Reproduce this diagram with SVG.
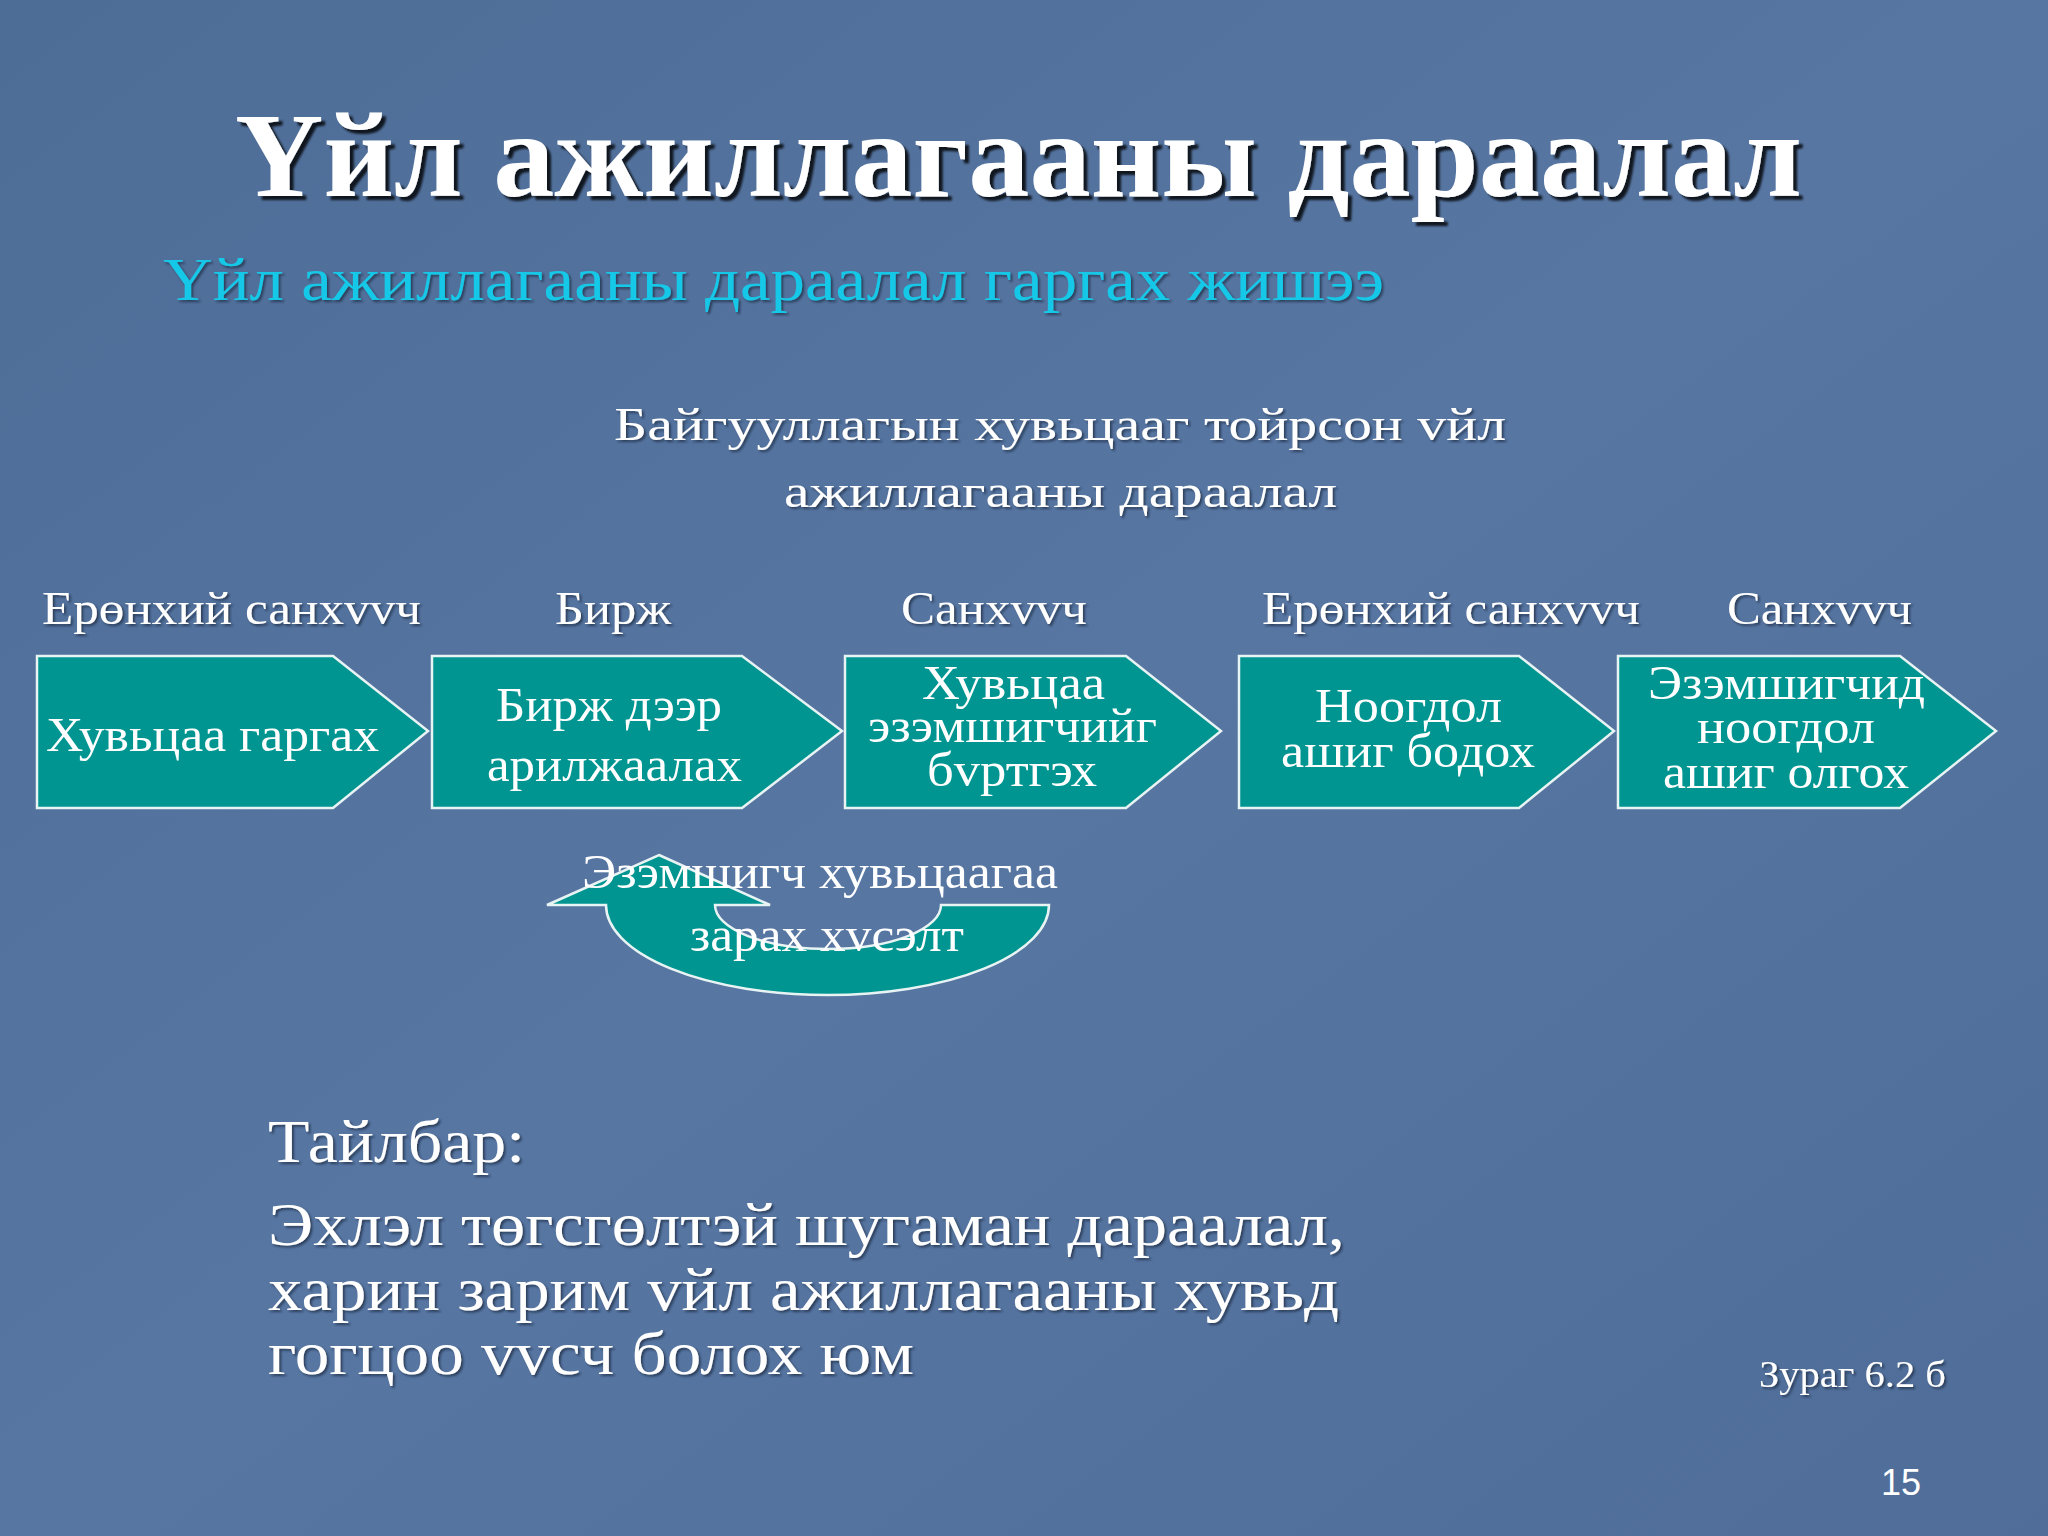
<svg xmlns="http://www.w3.org/2000/svg" width="2048" height="1536" viewBox="0 0 2048 1536">
<defs>
<linearGradient id="bg" x1="0" y1="0" x2="1" y2="1"><stop offset="0" stop-color="#4d6c96"/><stop offset="0.5" stop-color="#5776a2"/><stop offset="1" stop-color="#4f6d98"/></linearGradient>
<filter id="sh"><feDropShadow dx="4" dy="4" stdDeviation="1" flood-color="#000" flood-opacity="0.8"/></filter>
<filter id="sh2"><feDropShadow dx="2" dy="2" stdDeviation="1" flood-color="#1a2a40" flood-opacity="0.7"/></filter>
<style>
.t{font-family:"Liberation Serif","Times New Roman",serif;fill:#fff;}
.box{fill:#009590;stroke:#e8f4f4;stroke-width:2.5;}
.bt{font-family:"Liberation Serif",serif;fill:#fff;font-size:48px;}
.lab{font-family:"Liberation Serif",serif;fill:#fff;font-size:46px;}
</style>
</defs>
<rect width="2048" height="1536" fill="url(#bg)"/>
<text class="t" x="235" y="196" font-size="120" font-weight="bold" textLength="1567" lengthAdjust="spacingAndGlyphs" filter="url(#sh)">Үйл ажиллагааны дараалал</text>
<text x="163" y="300" font-family="Liberation Serif,serif" font-size="62" fill="#19c8e8" textLength="1221" lengthAdjust="spacingAndGlyphs" filter="url(#sh2)">Үйл ажиллагааны дараалал гаргах жишээ</text>
<g filter="url(#sh2)">
<text class="lab" x="614" y="440" textLength="892" lengthAdjust="spacingAndGlyphs">Байгууллагын хувьцааг тойрсон vйл</text>
<text class="lab" x="784" y="507" textLength="553" lengthAdjust="spacingAndGlyphs">ажиллагааны дараалал</text>
<text class="lab" x="42" y="624" textLength="379" lengthAdjust="spacingAndGlyphs">Ерөнхий санхvvч</text>
<text class="lab" x="555" y="624" textLength="116" lengthAdjust="spacingAndGlyphs">Бирж</text>
<text class="lab" x="901" y="624" textLength="186" lengthAdjust="spacingAndGlyphs">Санхvvч</text>
<text class="lab" x="1262" y="624" textLength="378" lengthAdjust="spacingAndGlyphs">Ерөнхий санхvvч</text>
<text class="lab" x="1727" y="624" textLength="185" lengthAdjust="spacingAndGlyphs">Санхvvч</text>
</g>
<g id="n1"><polygon class="box" points="37,656 333,656 428,731 333,808 37,808"/><text class="bt" x="46" y="751" textLength="333" lengthAdjust="spacingAndGlyphs">Хувьцаа гаргах</text></g>
<g id="n2"><polygon class="box" points="432,656 742,656 842,731 742,808 432,808"/><text class="bt" x="496" y="721" textLength="226" lengthAdjust="spacingAndGlyphs">Бирж дээр</text><text class="bt" x="487" y="781" textLength="255" lengthAdjust="spacingAndGlyphs">арилжаалах</text></g>
<g id="n3"><polygon class="box" points="845,656 1126,656 1221,731 1126,808 845,808"/><text class="bt" x="922" y="699" font-size="44" textLength="183" lengthAdjust="spacingAndGlyphs">Хувьцаа</text><text class="bt" x="868" y="742" font-size="44" textLength="289" lengthAdjust="spacingAndGlyphs">эзэмшигчийг</text><text class="bt" x="927" y="786" font-size="44" textLength="170" lengthAdjust="spacingAndGlyphs">бvртгэх</text></g>
<g id="n4"><polygon class="box" points="1239,656 1519,656 1614,731 1519,808 1239,808"/><text class="bt" x="1315" y="722" textLength="187" lengthAdjust="spacingAndGlyphs">Ноогдол</text><text class="bt" x="1281" y="767" textLength="254" lengthAdjust="spacingAndGlyphs">ашиг бодох</text></g>
<g id="n5"><polygon class="box" points="1618,656 1900,656 1996,731 1900,808 1618,808"/><text class="bt" x="1648" y="699" font-size="44" textLength="277" lengthAdjust="spacingAndGlyphs">Эзэмшигчид</text><text class="bt" x="1697" y="743" font-size="44" textLength="178" lengthAdjust="spacingAndGlyphs">ноогдол</text><text class="bt" x="1663" y="788" font-size="44" textLength="246" lengthAdjust="spacingAndGlyphs">ашиг олгох</text></g>
<g id="connectors">
<path class="box" d="M659,855 L770,905 L715,905 A113,44 0 0 0 941,905 L1049,905 A221.5,90 0 0 1 606,905 L547,905 Z"/>
</g>
<g id="loop-label">
<text class="bt" x="582" y="888" font-size="46" textLength="476" lengthAdjust="spacingAndGlyphs">Эзэмшигч хувьцаагаа</text>
<text class="bt" x="690" y="951" font-size="46" textLength="274" lengthAdjust="spacingAndGlyphs">зарах хvсэлт</text>
</g>
<g filter="url(#sh2)">
<text class="t" x="268" y="1162" font-size="62" textLength="257" lengthAdjust="spacingAndGlyphs">Тайлбар:</text>
<text class="t" x="268" y="1245" font-size="62" textLength="1077" lengthAdjust="spacingAndGlyphs">Эхлэл төгсгөлтэй шугаман дараалал,</text>
<text class="t" x="268" y="1310" font-size="62" textLength="1071" lengthAdjust="spacingAndGlyphs">харин зарим vйл ажиллагааны хувьд</text>
<text class="t" x="268" y="1374" font-size="62" textLength="646" lengthAdjust="spacingAndGlyphs">гогцоо vvсч болох юм</text>
<text class="t" x="1759" y="1387" font-size="37" textLength="187" lengthAdjust="spacingAndGlyphs">Зураг 6.2 б</text>
</g>
<text x="1881" y="1495" font-family="Liberation Sans,Arial,sans-serif" font-size="36" fill="#fff">15</text>
</svg>
